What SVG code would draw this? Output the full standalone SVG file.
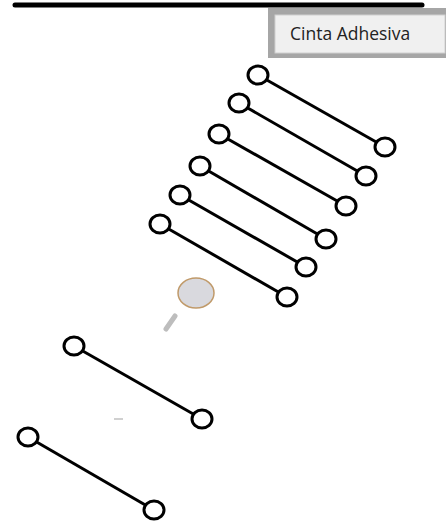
<svg xmlns="http://www.w3.org/2000/svg" width="446" height="525" viewBox="0 0 446 525">
<style>
.bar{stroke:#000;stroke-width:3;fill:none}
.end{stroke:#000;stroke-width:3;fill:#fff}
.lbl{font-family:"Open Sans","Liberation Sans",sans-serif;font-size:17.5px;fill:#222}
</style>
<rect width="446" height="525" fill="#fff"/>
<g id="label">
<rect x="268" y="8" width="178" height="50" fill="#a6a6a6"/>
<rect x="275" y="15" width="170" height="38" fill="#f0f0f0" stroke="#d0d0d0" stroke-width="1"/>
<text class="lbl" x="290" y="40">Cinta Adhesiva</text>
</g>
<line x1="15" y1="5" x2="422" y2="5" stroke="#000" stroke-width="5" stroke-linecap="round"/>
<g id="connectors">
<line class="bar" x1="258" y1="75" x2="385" y2="147"/>
<line class="bar" x1="239" y1="103" x2="366" y2="176"/>
<line class="bar" x1="219" y1="134" x2="346" y2="206"/>
<line class="bar" x1="200" y1="166" x2="326" y2="239"/>
<line class="bar" x1="180" y1="195" x2="306" y2="267"/>
<line class="bar" x1="160" y1="224" x2="287" y2="297"/>
<line class="bar" x1="74" y1="346" x2="202" y2="419"/>
<line class="bar" x1="28" y1="437" x2="154" y2="510"/>
</g>
<g id="n1"><ellipse class="end" cx="258" cy="75" rx="10" ry="9"/><ellipse class="end" cx="385" cy="147" rx="10" ry="9"/></g>
<g id="n2"><ellipse class="end" cx="239" cy="103" rx="10" ry="9"/><ellipse class="end" cx="366" cy="176" rx="10" ry="9"/></g>
<g id="n3"><ellipse class="end" cx="219" cy="134" rx="10" ry="9"/><ellipse class="end" cx="346" cy="206" rx="10" ry="9"/></g>
<g id="n4"><ellipse class="end" cx="200" cy="166" rx="10" ry="9"/><ellipse class="end" cx="326" cy="239" rx="10" ry="9"/></g>
<g id="n5"><ellipse class="end" cx="180" cy="195" rx="10" ry="9"/><ellipse class="end" cx="306" cy="267" rx="10" ry="9"/></g>
<g id="n6"><ellipse class="end" cx="160" cy="224" rx="10" ry="9"/><ellipse class="end" cx="287" cy="297" rx="10" ry="9"/></g>
<g id="n7"><ellipse class="end" cx="74" cy="346" rx="10" ry="9"/><ellipse class="end" cx="202" cy="419" rx="10" ry="9"/></g>
<g id="n8"><ellipse class="end" cx="28" cy="437" rx="10" ry="9"/><ellipse class="end" cx="154" cy="510" rx="10" ry="9"/></g>
<g id="magnifier">
<ellipse cx="196" cy="293" rx="18" ry="15" fill="#d9d9de" stroke="#c09a6a" stroke-width="1.5"/>
<line x1="175" y1="316" x2="166" y2="329" stroke="#bdbdbd" stroke-width="5" stroke-linecap="round"/>
</g>
<line x1="114" y1="419" x2="123" y2="419" stroke="#d0d0d0" stroke-width="2"/>
</svg>
